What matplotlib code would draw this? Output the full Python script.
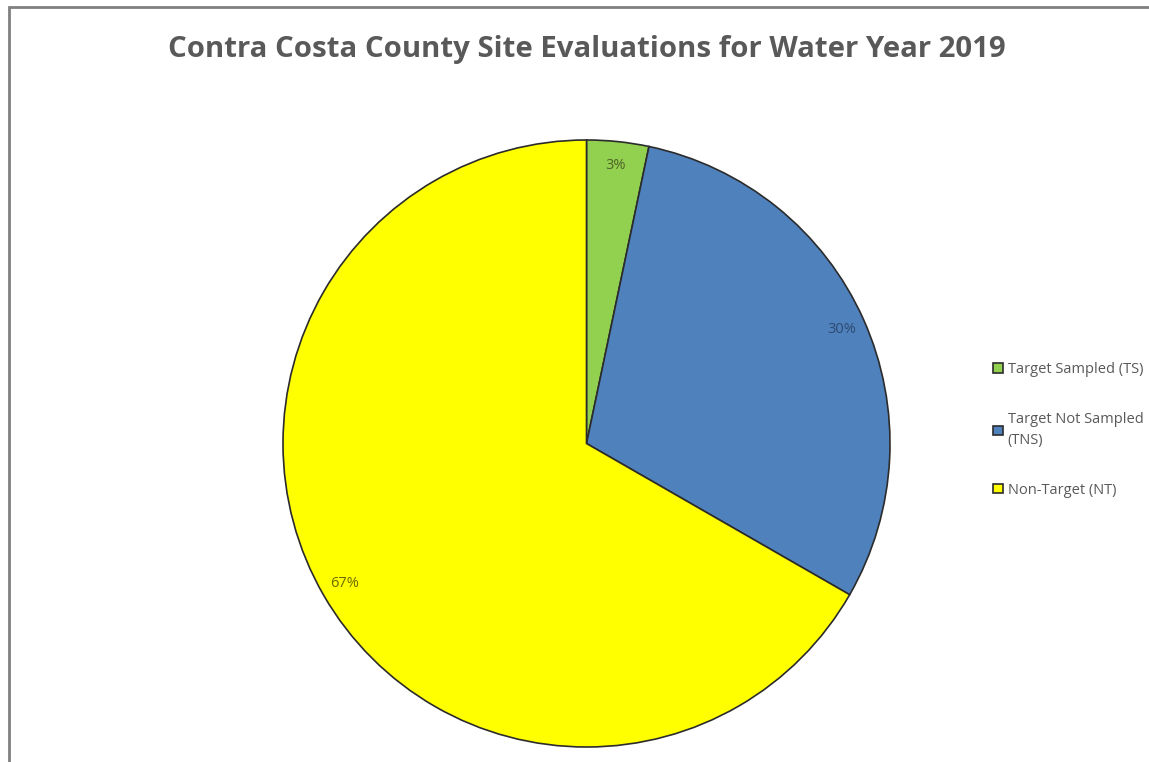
import matplotlib
matplotlib.use('Agg')
import matplotlib.pyplot as plt
from matplotlib.patches import Rectangle

# Datos del gráfico
categorias = ['Target Sampled (TS)', 'Target Not Sampled\n(TNS)', 'Non-Target (NT)']
porcentajes = [3.3, 30, 66.7]
colores = ['#92D050', '#4F81BD', '#FFFF00']
colores_texto = ['#4F6228', '#2E4A70', '#6B6B00']

fig = plt.figure(figsize=(11.49, 7.62), dpi=100)

# Borde gris del área del gráfico
fig.patches.append(Rectangle((9 / 1149, -0.05), 1.1, 1 - 7 / 762 + 0.05,
                             transform=fig.transFigure, fill=False,
                             edgecolor='#808080', linewidth=2))

ax = fig.add_axes([283 / 1149, 15 / 762, 607 / 1149, 607 / 762])
wedges, textos, autotextos = ax.pie(porcentajes, colors=colores, startangle=90,
                                    counterclock=False, autopct='%.0f%%',
                                    pctdistance=0.92,
                                    wedgeprops={'edgecolor': '#2b2b2b', 'linewidth': 1.2},
                                    textprops={'fontsize': 10.5, 'family': 'Open Sans'})
for t, c in zip(autotextos, colores_texto):
    t.set_color(c)
ax.set_xlim(-1.0, 1.0)
ax.set_ylim(-1.0, 1.0)
ax.set_aspect('equal')

fig.text(587 / 1149, 1 - 49 / 762, 'Contra Costa County Site Evaluations for Water Year 2019',
         ha='center', va='center', fontsize=21.2, fontweight='bold', color='#595959',
         family='Open Sans')

leg = fig.legend(wedges, categorias, loc='center left', bbox_to_anchor=(980 / 1149, 1 - 430 / 762),
                 frameon=False, labelspacing=2.4, handlelength=0.65, handleheight=0.65,
                 handletextpad=0.35, labelcolor='#595959',
                 prop={'family': 'Open Sans', 'size': 10.5})
for t in leg.get_texts():
    t.set_linespacing(1.5)

plt.savefig('out.png', dpi=100)
